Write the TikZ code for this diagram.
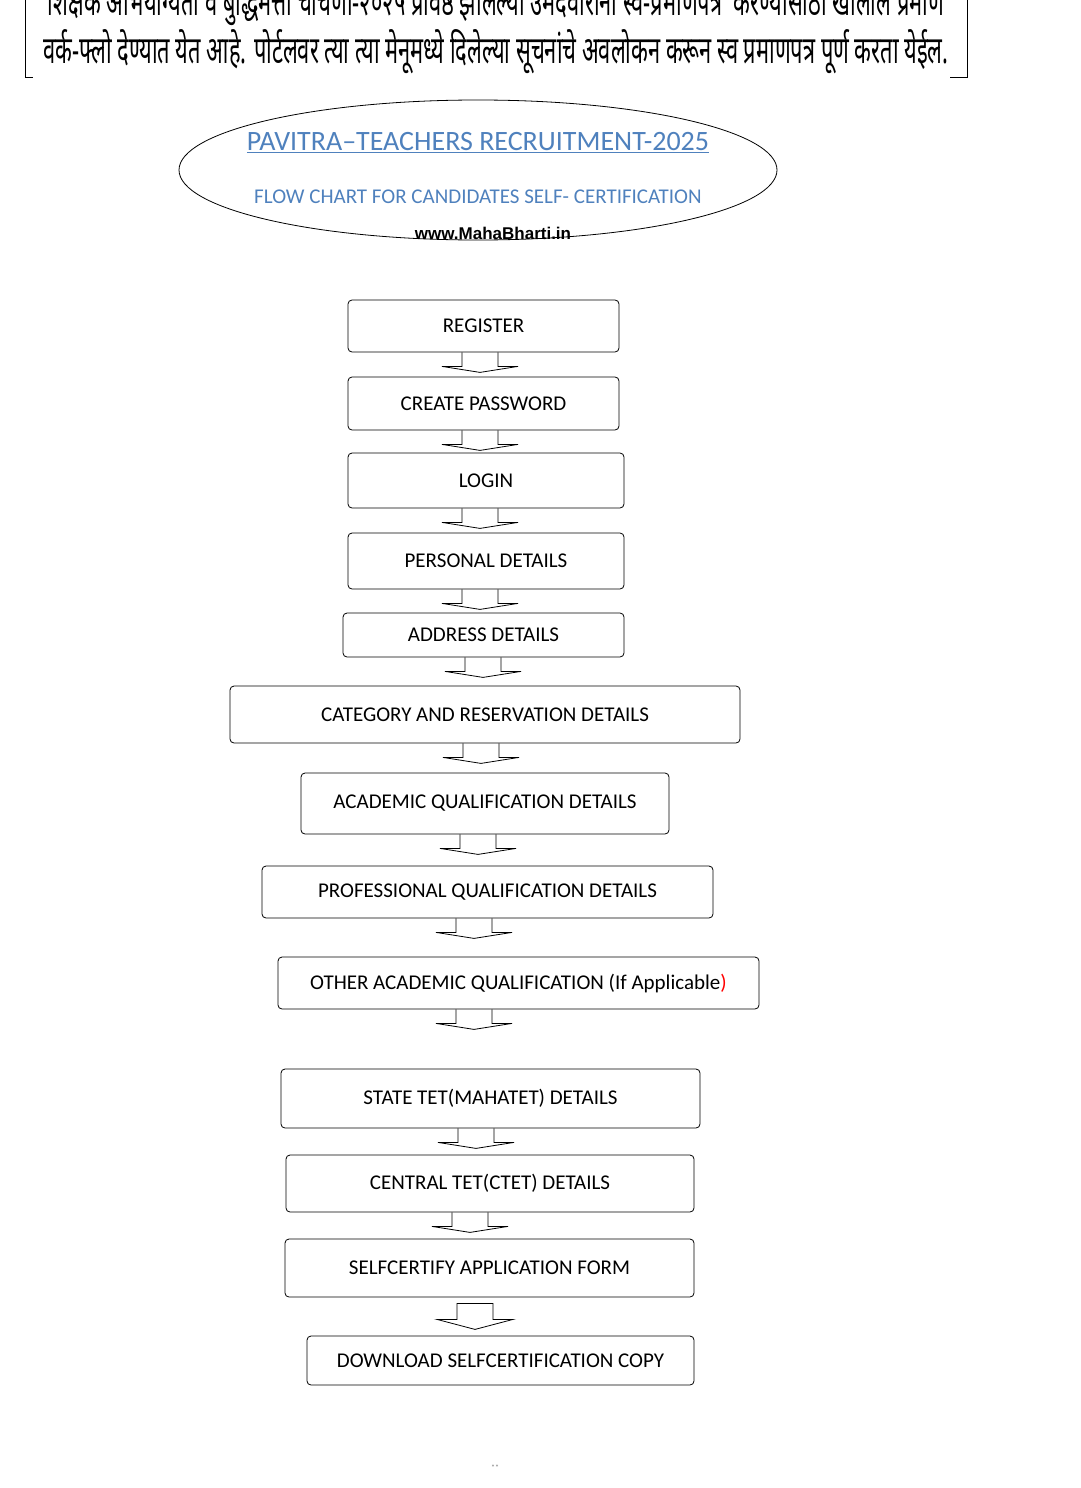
\documentclass[tikz,border=0pt]{standalone}
\usepackage{fontspec}
\setmainfont{Carlito}
\newfontfamily\devfont[Script=Devanagari]{Noto Sans}
\newfontfamily\webfont{Liberation Sans}
\usetikzlibrary{calc}
\definecolor{headblue}{RGB}{79,129,189}
\tikzstyle{flow box}=[
        draw = black,
        thick,
        rounded corners = 4pt,
        font = \fontsize{21}{24}\selectfont,
        inner sep = 0pt
    ]
\newcommand{\flowarrow}[2]{%
  \draw[thick] let \p1 = (#1.south) in
    (#2-18,\y1) -- (#2-18,\y1-14) -- (#2-38,\y1-14)
    -- (#2,\y1-20) -- (#2+38,\y1-14) -- (#2+18,\y1-14) -- (#2+18,\y1);}
\begin{document}
\begin{tikzpicture}[x=1pt, y=-1pt]
        \useasboundingbox (0,0) rectangle (1080,1488);
        % heading frame
        \draw[thick] (25,0) -- (25,77) -- (33,77);
        \draw[thick] (967,0) -- (967,77) -- (950,77);
        \node (note) at (496,30) {\resizebox{905pt}{58pt}{\devfont\bfseries\fontsize{24}{30}\selectfont
          \begin{tabular}{@{}c@{}}शिक्षक अभियोग्यता व बुद्धिमत्ता चाचणी-२०२५ प्रविष्ठ झालेल्या उमेदवारांना स्व-प्रमाणपत्र \ करण्यासाठी खालील प्रमाणे\\
          वर्क-फ्लो देण्यात येत आहे. पोर्टलवर त्या त्या मेनूमध्ये दिलेल्या सूचनांचे अवलोकन करून स्व प्रमाणपत्र पूर्ण करता येईल.\end{tabular}}};
        % title
        \draw[thick] (478,170) ellipse (299 and 70);
        \node[headblue, font=\fontsize{28}{31}\selectfont] (title) at (478,143) {\underline{PAVITRA--TEACHERS RECRUITMENT-2025}};
        \node[headblue, font=\fontsize{21}{24}\selectfont] (sub) at (478,197) {FLOW CHART FOR CANDIDATES SELF- CERTIFICATION};
        \node[font=\webfont\bfseries\fontsize{17}{19}\selectfont] (web) at (493,233) {www.MahaBharti.in};

        % boxes
        \node[flow box, minimum width=271, minimum height=52] (reg) at (483.5,326) {REGISTER};
        \node[flow box, minimum width=271, minimum height=53] (pwd) at (483.5,403.5) {CREATE PASSWORD};
        \node[flow box, minimum width=276, minimum height=55] (log) at (486,480.5) {LOGIN};
        \node[flow box, minimum width=276, minimum height=56] (per) at (486,561) {PERSONAL DETAILS};
        \node[flow box, minimum width=281, minimum height=44] (adr) at (483.5,635) {ADDRESS DETAILS};
        \node[flow box, minimum width=510, minimum height=57] (cat) at (485,714.5) {CATEGORY AND RESERVATION DETAILS};
        \node[flow box, minimum width=368, minimum height=61] (aca) at (485,803.5) {ACADEMIC QUALIFICATION DETAILS};
        \node[flow box, minimum width=451, minimum height=52] (pro) at (487.5,892) {PROFESSIONAL QUALIFICATION DETAILS};
        \node[flow box, minimum width=481, minimum height=52] (oth) at (518.5,983) {OTHER ACADEMIC QUALIFICATION (If Applicable\textcolor{red}{)}};
        \node[flow box, minimum width=419, minimum height=59] (tet) at (490.5,1098.5) {STATE TET(MAHATET) DETAILS};
        \node[flow box, minimum width=408, minimum height=57] (ctet) at (490,1183.5) {CENTRAL TET(CTET) DETAILS};
        \node[flow box, minimum width=409, minimum height=58] (self) at (489.5,1268) {SELFCERTIFY APPLICATION FORM};
        \node[flow box, minimum width=387, minimum height=49] (dwn) at (500.5,1360.5) {DOWNLOAD SELFCERTIFICATION COPY};

        % arrows
        \flowarrow{reg}{480}
        \flowarrow{pwd}{480}
        \flowarrow{log}{480}
        \flowarrow{per}{480}
        \flowarrow{adr}{483}
        \flowarrow{cat}{481}
        \flowarrow{aca}{478}
        \flowarrow{pro}{474}
        \flowarrow{oth}{474}
        \flowarrow{tet}{476}
        \flowarrow{ctet}{470}
        \draw[thick] let \p1 = (self.south) in
          (457,\y1-6) -- (457,\y1-22) -- (437,\y1-22) -- (475,\y1-32) -- (513,\y1-22) -- (493,\y1-22) -- (493,\y1-6) -- cycle;
        \node[gray, font=\fontsize{8}{9}\selectfont] (mark) at (495,1468) {**};
\end{tikzpicture}
\end{document}
